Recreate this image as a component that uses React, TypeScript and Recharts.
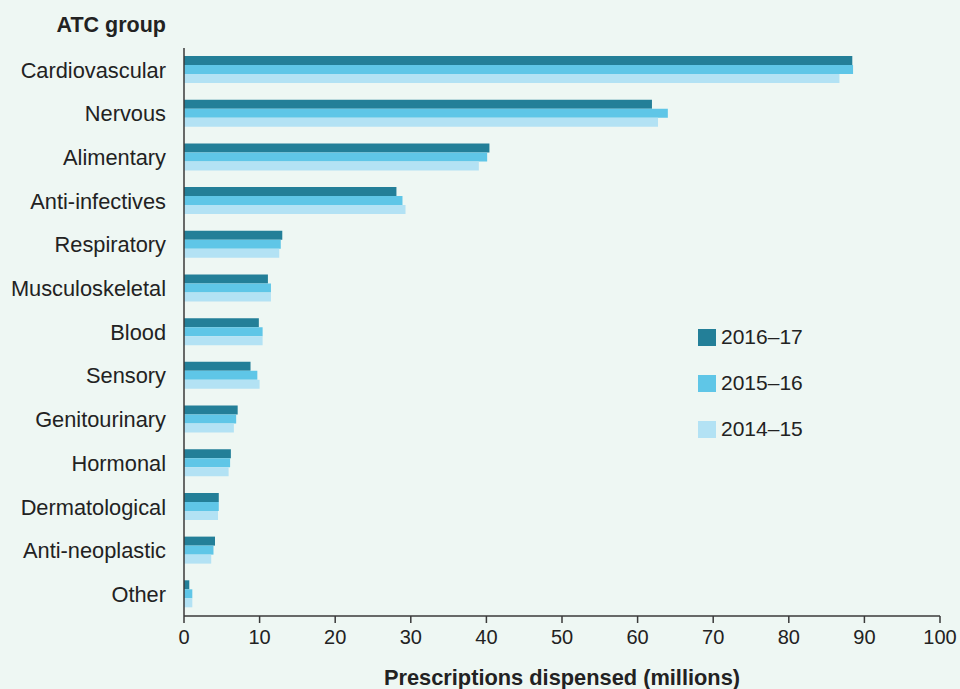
import { BarChart, Bar, XAxis, YAxis, Legend } from 'recharts';

const groups = [
  'Cardiovascular', 'Nervous', 'Alimentary', 'Anti-infectives', 'Respiratory',
  'Musculoskeletal', 'Blood', 'Sensory', 'Genitourinary', 'Hormonal',
  'Dermatological', 'Anti-neoplastic', 'Other',
];
const y2016 = [88.4, 61.9, 40.4, 28.1, 13.0, 11.1, 9.9, 8.8, 7.1, 6.2, 4.6, 4.1, 0.7];
const y2015 = [88.5, 64.0, 40.1, 28.9, 12.8, 11.5, 10.4, 9.7, 6.9, 6.1, 4.6, 3.9, 1.1];
const y2014 = [86.7, 62.7, 39.0, 29.3, 12.6, 11.5, 10.4, 10.0, 6.6, 5.9, 4.5, 3.6, 1.1];
const xTicks = [0, 10, 20, 30, 40, 50, 60, 70, 80, 90, 100];

const data = groups.map((g, i) => ({ group: g, y2016: y2016[i], y2015: y2015[i], y2014: y2014[i] }));

const FONT = "'Liberation Sans', Arial, sans-serif";
const TEXT = '#222';
const AXIS = '#3a3a3a';

// newest season first, like the original
const renderLegend = (props: any) => {
  const items = [...props.payload].sort((a: any, b: any) => String(b.value).localeCompare(String(a.value)));
  return (
    <div style={{ fontFamily: FONT }}>
      {items.map((p: any) => (
        <div key={p.value} style={{ display: 'flex', alignItems: 'center', height: 46 }}>
          <span style={{ width: 18, height: 17, background: p.color, display: 'inline-block', marginRight: 5 }} />
          <span style={{ fontSize: 21, color: TEXT }}>{p.value}</span>
        </div>
      ))}
    </div>
  );
};

const App = () => {
  return (
    <div style={{ position: 'absolute', left: 0, top: 0, width: 960, height: 689, background: '#eef7f3' }}>
      <BarChart
        width={960}
        height={689}
        data={data}
        layout="vertical"
        margin={{ top: 48, right: 20, bottom: 0, left: 0 }}
        barGap={0}
      >
        <XAxis
          type="number"
          domain={[0, 100]}
          ticks={xTicks}
          height={73}
          stroke={AXIS}
          strokeWidth={1.5}
          tickSize={7}
          tickMargin={7}
          tick={{ fontSize: 20, fill: TEXT, fontFamily: FONT }}
          label={{
            value: 'Prescriptions dispensed (millions)',
            position: 'insideBottom',
            offset: 4,
            style: { fontSize: 21.8, fontWeight: 'bold', fill: TEXT, fontFamily: FONT },
          }}
        />
        <YAxis
          type="category"
          dataKey="group"
          width={184}
          stroke={AXIS}
          strokeWidth={1.5}
          tickLine={false}
          tickSize={0}
          tickMargin={18}
          interval={0}
          tick={{ fontSize: 21.8, fill: TEXT, fontFamily: FONT }}
          label={{
            content: (props: any) => {
              const vb = props.viewBox;
              return (
                <text x={vb.x + vb.width - 18} y={vb.y - 16} textAnchor="end" fontSize={21.5} fontWeight="bold" fill={TEXT} fontFamily={FONT}>
                  ATC group
                </text>
              );
            },
          }}
        />
        <Legend
          layout="horizontal"
          verticalAlign="middle"
          align="center"
          content={renderLegend}
          wrapperStyle={{ left: 698, top: 314, width: 140 }}
        />
        <Bar dataKey="y2016" name="2016–17" fill="#237f98" barSize={9} isAnimationActive={false} />
        <Bar dataKey="y2015" name="2015–16" fill="#5fc6e7" barSize={9} isAnimationActive={false} />
        <Bar dataKey="y2014" name="2014–15" fill="#b3e2f4" barSize={9} isAnimationActive={false} />
      </BarChart>
    </div>
  );
};

export default App;
